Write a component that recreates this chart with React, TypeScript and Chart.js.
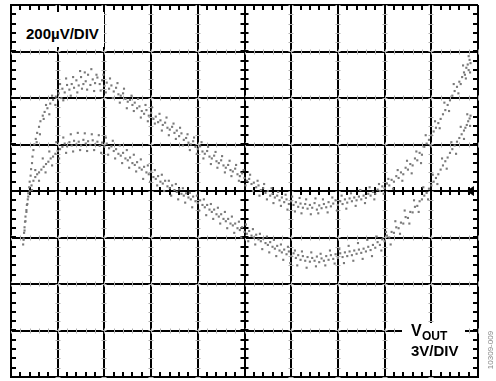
import React, { useEffect, useRef } from "react";
import { Chart, registerables } from "chart.js";

Chart.register(...registerables);

// Horizontal: 10 divisions (time), vertical: 8 divisions (200µV/DIV), centre = 0
const xDivisions = [0, 10];
const yDivisions = [-4, 4];
const minorPerDivision = 5;

// Trace 1 (upper branch), [x div, y div] — core of the band
const upperTrace: [number, number][] = [
  [0.26,-1.15],[0.27,-1.02],[0.28,-0.9],[0.29,-0.78],[0.3,-0.66],[0.31,-0.55],[0.33,-0.41],[0.34,-0.3],[0.36,-0.18],[0.37,-0.05],
  [0.39,0.08],[0.4,0.2],[0.42,0.33],[0.43,0.47],[0.45,0.6],[0.46,0.74],[0.48,0.88],[0.5,1.0],[0.53,1.12],[0.56,1.25],
  [0.6,1.38],[0.63,1.5],[0.68,1.62],[0.72,1.7],[0.78,1.78],[0.84,1.88],[0.9,1.96],[0.96,2.03],[1.02,2.1],[1.08,2.0],
  [1.1,2.2],[1.15,2.12],[1.2,2.28],[1.25,2.18],[1.3,2.3],[1.35,2.22],[1.4,2.38],[1.45,2.27],[1.5,2.45],[1.55,2.3],
  [1.6,2.36],[1.65,2.5],[1.7,2.28],[1.75,2.4],[1.8,2.32],[1.85,2.44],[1.9,2.3],[1.95,2.38],[2.0,2.26],[2.05,2.33],
  [2.1,2.2],[2.15,2.27],[2.2,2.14],[2.25,2.22],[2.3,2.08],[2.35,2.05],[2.4,2.1],[2.45,1.98],[2.5,1.92],[2.55,1.96],
  [2.6,1.85],[2.65,1.9],[2.7,1.78],[2.75,1.82],[2.8,1.72],[2.85,1.66],[2.9,1.74],[2.95,1.62],[3.0,1.68],[3.05,1.55],
  [3.1,1.6],[3.15,1.48],[3.2,1.52],[3.25,1.42],[3.3,1.47],[3.35,1.36],[3.4,1.32],[3.45,1.38],[3.5,1.25],[3.55,1.3],
  [3.6,1.18],[3.65,1.24],[3.7,1.1],[3.75,1.14],[3.8,1.04],[3.85,1.0],[3.9,1.07],[3.95,0.95],[4.0,0.9],[4.05,0.96],
  [4.1,0.85],[4.15,0.8],[4.2,0.86],[4.25,0.74],[4.3,0.7],[4.35,0.76],[4.4,0.64],[4.45,0.6],[4.5,0.66],[4.55,0.55],
  [4.6,0.5],[4.65,0.56],[4.7,0.45],[4.75,0.42],[4.8,0.48],[4.85,0.36],[4.9,0.32],[4.95,0.38],[5.0,0.28],[5.05,0.22],
  [5.1,0.26],[5.15,0.15],[5.2,0.18],[5.25,0.08],[5.3,0.12],[5.35,0.02],[5.4,0.06],[5.45,-0.04],[5.5,0.0],[5.55,-0.1],
  [5.6,-0.06],[5.65,-0.14],[5.7,-0.1],[5.75,-0.2],[5.8,-0.14],[5.85,-0.24],[5.9,-0.18],[5.95,-0.28],[6.0,-0.22],[6.05,-0.3],
  [6.1,-0.24],[6.15,-0.34],[6.2,-0.27],[6.25,-0.36],[6.3,-0.28],[6.35,-0.38],[6.4,-0.3],[6.45,-0.36],[6.5,-0.26],[6.55,-0.4],
  [6.6,-0.31],[6.65,-0.37],[6.7,-0.28],[6.75,-0.35],[6.8,-0.24],[6.85,-0.33],[6.9,-0.27],[6.95,-0.2],[7.0,-0.3],[7.05,-0.22],
  [7.1,-0.28],[7.15,-0.18],[7.2,-0.25],[7.25,-0.16],[7.3,-0.22],[7.35,-0.14],[7.4,-0.2],[7.45,-0.12],[7.5,-0.18],[7.55,-0.1],
  [7.6,-0.15],[7.65,-0.06],[7.7,-0.1],[7.75,-0.02],[7.8,-0.06],[7.85,0.03],[7.9,0.0],[7.95,0.1],[8.0,0.06],[8.05,0.16],
  [8.1,0.12],[8.15,0.24],[8.2,0.2],[8.25,0.32],[8.3,0.28],[8.35,0.4],[8.4,0.36],[8.45,0.5],[8.5,0.46],[8.55,0.58],
  [8.6,0.55],[8.65,0.7],[8.7,0.66],[8.75,0.82],[8.8,0.78],[8.85,0.95],[8.9,1.02],[8.95,1.1],[9.0,1.2],[9.05,1.28],
  [9.1,1.36],[9.15,1.46],[9.2,1.55],[9.25,1.65],[9.3,1.74],[9.35,1.85],[9.4,1.95],[9.45,2.05],[9.5,2.15],[9.55,2.24],
  [9.6,2.35],[9.63,2.3],[9.66,2.45],[9.7,2.55],[9.72,2.5],[9.75,2.65],[9.78,2.72],[9.8,2.6],[9.82,2.82],[9.84,2.75],
];

// Trace 1 — scattered dots around the band
const upperScatter: [number, number][] = [
  [0.55,1.05],[0.62,1.22],[0.7,1.55],[0.75,1.85],[0.82,1.65],[0.88,2.05],[0.95,1.85],[1.05,2.3],[1.12,1.95],[1.18,2.42],
  [1.28,2.05],[1.33,2.45],[1.42,2.12],[1.48,2.58],[1.52,2.2],[1.58,2.55],[1.63,2.18],[1.72,2.62],[1.78,2.15],[1.83,2.5],
  [1.92,2.16],[1.98,2.5],[2.03,2.12],[2.12,2.42],[2.18,2.0],[2.28,2.32],[2.33,1.9],[2.42,2.2],[2.48,1.78],[2.58,2.05],
  [2.63,1.72],[2.72,1.98],[2.78,1.58],[2.88,1.85],[2.93,1.5],[3.02,1.8],[3.08,1.45],[3.18,1.66],[3.23,1.3],[3.33,1.58],
  [3.38,1.2],[3.48,1.45],[3.53,1.12],[3.62,1.36],[3.68,0.98],[3.78,1.22],[3.83,0.88],[3.92,1.15],[3.98,0.8],[4.08,1.05],
  [4.12,0.7],[4.22,0.95],[4.28,0.58],[4.38,0.84],[4.42,0.5],[4.52,0.75],[4.58,0.4],[4.68,0.65],[4.72,0.32],[4.82,0.56],
  [4.88,0.22],[4.98,0.45],[5.02,0.12],[5.12,0.35],[5.18,0.0],[5.28,0.22],[5.32,-0.1],[5.42,0.15],[5.48,-0.18],[5.58,0.06],
  [5.62,-0.26],[5.72,-0.02],[5.78,-0.32],[5.88,-0.08],[5.92,-0.4],[6.02,-0.12],[6.08,-0.44],[6.18,-0.15],[6.22,-0.48],[6.32,-0.18],
  [6.42,-0.5],[6.52,-0.16],[6.58,-0.48],[6.68,-0.18],[6.78,-0.46],[6.88,-0.14],[6.98,-0.42],[7.08,-0.1],[7.18,-0.38],[7.28,-0.05],
  [7.38,-0.32],[7.48,0.02],[7.58,-0.26],[7.68,0.08],[7.78,-0.18],[7.88,0.15],[7.98,-0.06],[8.08,0.26],[8.18,0.05],[8.28,0.45],
  [8.38,0.22],[8.48,0.65],[8.58,0.38],[8.68,0.85],[8.78,0.6],[8.88,1.2],[8.98,0.98],[9.08,1.5],[9.18,1.35],[9.28,1.9],
  [9.38,1.72],[9.48,2.3],[9.58,2.1],[9.68,2.7],[9.74,2.42],[9.8,2.9],[9.83,2.55],
];

// Trace 2 (lower branch), [x div, y div] — core of the band
const lowerTrace: [number, number][] = [
  [0.27,-1.05],[0.29,-0.85],[0.31,-0.65],[0.33,-0.45],[0.35,-0.28],[0.37,-0.12],[0.4,0.0],[0.44,0.12],[0.48,0.22],[0.52,0.3],
  [0.56,0.36],[0.6,0.4],[0.65,0.46],[0.7,0.52],[0.75,0.58],[0.8,0.63],[0.85,0.7],[0.9,0.74],[0.95,0.8],[1.0,0.86],
  [1.05,0.9],[1.1,0.95],[1.15,1.02],[1.2,0.96],[1.25,1.05],[1.3,0.98],[1.35,1.08],[1.4,1.0],[1.45,1.06],[1.5,0.98],
  [1.55,1.1],[1.6,1.02],[1.65,1.07],[1.7,0.99],[1.75,1.09],[1.8,1.0],[1.85,1.06],[1.9,0.97],[1.95,1.04],[2.0,0.96],
  [2.05,1.02],[2.1,0.92],[2.15,0.96],[2.2,0.86],[2.25,0.9],[2.3,0.8],[2.35,0.76],[2.4,0.82],[2.45,0.7],[2.5,0.66],
  [2.55,0.72],[2.6,0.6],[2.65,0.56],[2.7,0.62],[2.75,0.5],[2.8,0.46],[2.85,0.52],[2.9,0.4],[2.95,0.36],[3.0,0.42],
  [3.05,0.3],[3.1,0.26],[3.15,0.32],[3.2,0.2],[3.25,0.16],[3.3,0.22],[3.35,0.1],[3.4,0.06],[3.45,0.12],[3.5,0.02],
  [3.55,-0.02],[3.6,0.04],[3.65,-0.06],[3.7,-0.1],[3.75,-0.05],[3.8,-0.14],[3.85,-0.18],[3.9,-0.12],[3.95,-0.22],[4.0,-0.26],
  [4.05,-0.2],[4.1,-0.3],[4.15,-0.35],[4.2,-0.3],[4.25,-0.4],[4.3,-0.45],[4.35,-0.4],[4.4,-0.5],[4.45,-0.55],[4.5,-0.5],
  [4.55,-0.6],[4.6,-0.65],[4.65,-0.6],[4.7,-0.7],[4.75,-0.74],[4.8,-0.7],[4.85,-0.8],[4.9,-0.84],[4.95,-0.78],[5.0,-0.88],
  [5.05,-0.92],[5.1,-0.86],[5.15,-0.96],[5.2,-1.0],[5.25,-0.94],[5.3,-1.04],[5.35,-1.08],[5.4,-1.02],[5.45,-1.12],[5.5,-1.16],
  [5.55,-1.1],[5.6,-1.2],[5.65,-1.24],[5.7,-1.18],[5.75,-1.28],[5.8,-1.32],[5.85,-1.26],[5.9,-1.36],[5.95,-1.3],[6.0,-1.4],
  [6.05,-1.34],[6.1,-1.44],[6.15,-1.38],[6.2,-1.48],[6.25,-1.4],[6.3,-1.5],[6.35,-1.42],[6.4,-1.52],[6.45,-1.44],[6.5,-1.5],
  [6.55,-1.41],[6.6,-1.53],[6.65,-1.45],[6.7,-1.5],[6.75,-1.4],[6.8,-1.48],[6.85,-1.38],[6.9,-1.46],[6.95,-1.36],[7.0,-1.44],
  [7.05,-1.34],[7.1,-1.42],[7.15,-1.32],[7.2,-1.4],[7.25,-1.3],[7.3,-1.38],[7.35,-1.28],[7.4,-1.35],[7.45,-1.26],[7.5,-1.33],
  [7.55,-1.24],[7.6,-1.3],[7.65,-1.2],[7.7,-1.27],[7.75,-1.16],[7.8,-1.22],[7.85,-1.1],[7.9,-1.16],[7.95,-1.04],[8.0,-1.08],
  [8.05,-0.96],[8.1,-1.0],[8.15,-0.88],[8.2,-0.9],[8.25,-0.78],[8.3,-0.8],[8.35,-0.68],[8.4,-0.7],[8.45,-0.56],[8.5,-0.58],
  [8.55,-0.45],[8.6,-0.46],[8.65,-0.34],[8.7,-0.32],[8.75,-0.22],[8.8,-0.18],[8.85,-0.1],[8.9,-0.04],[8.95,0.05],[9.0,0.12],
  [9.05,0.2],[9.1,0.28],[9.15,0.36],[9.2,0.46],[9.25,0.55],[9.3,0.64],[9.35,0.72],[9.4,0.82],[9.45,0.9],[9.5,0.98],
  [9.55,1.06],[9.6,1.14],[9.65,1.22],[9.7,1.3],[9.73,1.36],[9.76,1.42],[9.79,1.5],[9.82,1.56],[9.84,1.62],
];

// Trace 2 — scattered dots around the band
const lowerScatter: [number, number][] = [
  [0.45,0.02],[0.52,0.45],[0.6,0.22],[0.68,0.7],[0.74,0.4],[0.82,0.85],[0.88,0.55],[0.97,1.05],[1.03,0.7],[1.12,1.15],
  [1.18,0.82],[1.28,1.22],[1.33,0.85],[1.43,1.25],[1.48,0.88],[1.58,1.24],[1.63,0.86],[1.73,1.22],[1.78,0.88],[1.88,1.2],
  [1.93,0.82],[2.03,1.15],[2.08,0.78],[2.18,1.08],[2.23,0.7],[2.33,0.98],[2.38,0.6],[2.48,0.88],[2.53,0.5],[2.63,0.78],
  [2.68,0.42],[2.78,0.68],[2.83,0.26],[2.93,0.55],[2.98,0.2],[3.08,0.45],[3.13,0.12],[3.23,0.35],[3.28,0.0],[3.38,0.22],
  [3.43,-0.1],[3.53,0.15],[3.58,-0.18],[3.68,0.06],[3.73,-0.25],[3.83,-0.04],[3.88,-0.35],[3.98,-0.1],[4.03,-0.42],[4.13,-0.18],
  [4.18,-0.52],[4.28,-0.28],[4.33,-0.6],[4.43,-0.36],[4.48,-0.7],[4.58,-0.45],[4.63,-0.8],[4.73,-0.55],[4.78,-0.9],[4.88,-0.66],
  [4.93,-1.0],[5.03,-0.72],[5.08,-1.08],[5.18,-0.82],[5.23,-1.15],[5.33,-0.92],[5.38,-1.25],[5.48,-0.98],[5.53,-1.32],[5.63,-1.05],
  [5.68,-1.4],[5.78,-1.15],[5.83,-1.48],[5.93,-1.2],[5.98,-1.55],[6.08,-1.28],[6.13,-1.6],[6.23,-1.3],[6.33,-1.65],[6.43,-1.32],
  [6.53,-1.62],[6.63,-1.35],[6.73,-1.6],[6.83,-1.28],[6.93,-1.56],[7.03,-1.25],[7.13,-1.55],[7.23,-1.18],[7.33,-1.5],[7.43,-1.12],
  [7.53,-1.46],[7.63,-1.05],[7.73,-1.4],[7.83,-0.98],[7.93,-1.28],[8.03,-0.88],[8.13,-1.15],[8.23,-0.65],[8.33,-0.92],[8.43,-0.42],
  [8.53,-0.7],[8.63,-0.2],[8.73,-0.45],[8.83,0.08],[8.93,-0.18],[9.03,0.35],[9.13,0.15],[9.23,0.7],[9.33,0.48],[9.43,1.05],
  [9.53,0.8],[9.63,1.38],[9.7,1.12],[9.77,1.65],[9.83,1.4],
];

const scaleLabel = "200µV/DIV";
const traceLabel = "V";
const traceSub = "OUT";
const traceScale = "3V/DIV";
const figureId = "10309-009";

const scopePlugin = {
  id: "scopeMarks",
  beforeDatasetsDraw(chart: any) {
    const { ctx, chartArea, scales } = chart;
    const xs = scales.x;
    const ys = scales.y;
    const { left, right, top, bottom } = chartArea;
    ctx.save();
    const step = 1 / minorPerDivision;
    // faint marks on inner gridlines
    ctx.strokeStyle = "#b0b0b0";
    ctx.lineWidth = 1;
    for (let gx = xDivisions[0] + 1; gx < xDivisions[1]; gx++) {
      if (gx === 5) continue;
      const px = Math.round(xs.getPixelForValue(gx));
      for (let v = yDivisions[0]; v <= yDivisions[1] + 1e-9; v += step) {
        const py = Math.round(ys.getPixelForValue(v)) + 0.5;
        ctx.beginPath();
        ctx.moveTo(px - 2.5, py);
        ctx.lineTo(px + 2.5, py);
        ctx.stroke();
      }
    }
    for (let gy = yDivisions[0] + 1; gy < yDivisions[1]; gy++) {
      if (gy === 0) continue;
      const py = Math.round(ys.getPixelForValue(gy));
      for (let v = xDivisions[0]; v <= xDivisions[1] + 1e-9; v += step) {
        const px = Math.round(xs.getPixelForValue(v)) + 0.5;
        ctx.beginPath();
        ctx.moveTo(px, py - 2.5);
        ctx.lineTo(px, py + 2.5);
        ctx.stroke();
      }
    }
    // black minor ticks on centre axes and borders
    ctx.strokeStyle = "#000";
    ctx.lineWidth = 2;
    const cx = xs.getPixelForValue(5);
    const cy = ys.getPixelForValue(0);
    for (let v = xDivisions[0]; v <= xDivisions[1] + 1e-9; v += step) {
      const px = Math.round(xs.getPixelForValue(v));
      ctx.beginPath();
      ctx.moveTo(px, cy - 4);
      ctx.lineTo(px, cy + 4);
      ctx.moveTo(px, top);
      ctx.lineTo(px, top + 5);
      ctx.moveTo(px, bottom);
      ctx.lineTo(px, bottom - 5);
      ctx.stroke();
    }
    for (let v = yDivisions[0]; v <= yDivisions[1] + 1e-9; v += step) {
      const py = Math.round(ys.getPixelForValue(v));
      ctx.beginPath();
      ctx.moveTo(cx - 4, py);
      ctx.lineTo(cx + 4, py);
      ctx.moveTo(left, py);
      ctx.lineTo(left + 5, py);
      ctx.moveTo(right, py);
      ctx.lineTo(right - 5, py);
      ctx.stroke();
    }
    // ground marker
    ctx.fillStyle = "#000";
    ctx.beginPath();
    ctx.moveTo(right - 12, cy);
    ctx.lineTo(right - 4, cy - 5);
    ctx.lineTo(right - 4, cy + 5);
    ctx.closePath();
    ctx.fill();
    ctx.restore();
  },
};

const textBase: React.CSSProperties = {
  position: "absolute",
  fontFamily: '"Liberation Sans", Arial, sans-serif',
  fontWeight: "bold",
  color: "#000",
  whiteSpace: "nowrap",
};

const dotStyle = {
  pointStyle: "rect",
  pointRadius: 1.5,
  pointBorderWidth: 0,
  backgroundColor: "#7a7a7a",
};

export default function App() {
  const canvasRef = useRef<HTMLCanvasElement | null>(null);

  useEffect(() => {
    if (!canvasRef.current) return;
    const toPoints = (arr: [number, number][]) => arr.map(([x, y]) => ({ x, y }));
    const chart = new Chart(canvasRef.current, {
      type: "scatter",
      data: {
        datasets: [
          { label: "upper", data: toPoints(upperTrace), ...dotStyle },
          { label: "upper scatter", data: toPoints(upperScatter), ...dotStyle },
          { label: "lower", data: toPoints(lowerTrace), ...dotStyle },
          { label: "lower scatter", data: toPoints(lowerScatter), ...dotStyle },
        ] as any,
      },
      options: {
        responsive: false,
        animation: false,
        devicePixelRatio: 1,
        layout: { padding: { left: 11, top: 5, right: 18, bottom: 2 } },
        plugins: { legend: { display: false }, tooltip: { enabled: false } },
        scales: {
          x: {
            type: "linear",
            min: xDivisions[0],
            max: xDivisions[1],
            ticks: { display: false, stepSize: 1 },
            grid: { color: "#000", lineWidth: 2, drawTicks: false },
            border: { display: true, color: "#000", width: 2 },
          },
          y: {
            type: "linear",
            min: yDivisions[0],
            max: yDivisions[1],
            ticks: { display: false, stepSize: 1 },
            grid: { color: "#000", lineWidth: 2, drawTicks: false },
            border: { display: true, color: "#000", width: 2 },
          },
        },
      },
      plugins: [scopePlugin],
    });
    return () => chart.destroy();
  }, []);

  return (
    <div style={{ position: "absolute", left: 0, top: 0, width: 496, height: 381, background: "#fff" }}>
      <canvas ref={canvasRef} width={496} height={381} style={{ position: "absolute", left: 0, top: 0 }} />
      <div style={{ position: "absolute", left: 20, top: 12, width: 84, height: 35, background: "#fff" }} />
      <span style={{ ...textBase, left: 26, top: 26, fontSize: 15, lineHeight: "15px" }}>{scaleLabel}</span>
      <div style={{ position: "absolute", left: 402, top: 323, width: 63, height: 47, background: "#fff" }} />
      <span style={{ ...textBase, left: 411, top: 323, fontSize: 16, lineHeight: "16px" }}>{traceLabel}</span>
      <span style={{ ...textBase, left: 422, top: 330, fontSize: 12, lineHeight: "12px" }}>{traceSub}</span>
      <span style={{ ...textBase, left: 411, top: 343, fontSize: 15, lineHeight: "16px" }}>{traceScale}</span>
      <span
        style={{
          position: "absolute",
          left: 490,
          top: 350,
          transform: "translate(-50%, -50%) rotate(-90deg)",
          fontFamily: '"Liberation Sans", Arial, sans-serif',
          fontSize: 8,
          color: "#888",
          whiteSpace: "nowrap",
        }}
      >
        {figureId}
      </span>
    </div>
  );
}
